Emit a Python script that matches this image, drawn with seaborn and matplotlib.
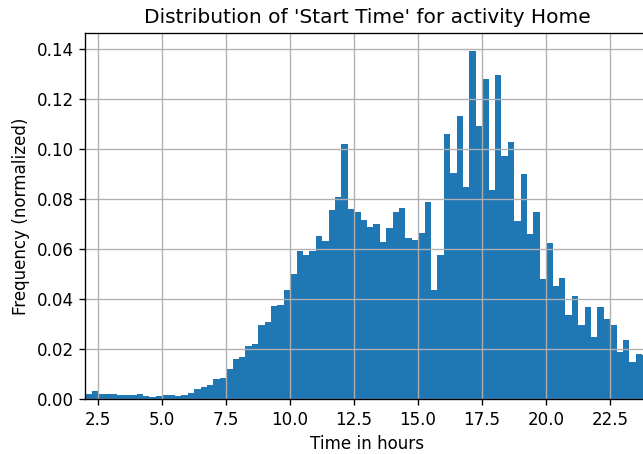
import numpy as np
import pandas as pd
import matplotlib
matplotlib.use("Agg")
import matplotlib.pyplot as plt
import seaborn as sns

# Histogram bins (hours) and normalized frequencies
bin_edges = list(np.linspace(2.0, 24.0, 89))
frequencies = [
    0.0019, 0.0032, 0.0020, 0.0021, 0.0020, 0.0017, 0.0015, 0.0016, 0.0020, 0.0010,
    0.0009, 0.0010, 0.0014, 0.0015, 0.0013, 0.0016, 0.0023, 0.0040, 0.0047, 0.0055,
    0.0078, 0.0082, 0.0120, 0.0160, 0.0169, 0.0213, 0.0220, 0.0297, 0.0309, 0.0372,
    0.0375, 0.0435, 0.0500, 0.0593, 0.0577, 0.0590, 0.0653, 0.0632, 0.0755, 0.0807,
    0.1020, 0.0759, 0.0749, 0.0715, 0.0687, 0.0699, 0.0629, 0.0683, 0.0749, 0.0763,
    0.0643, 0.0635, 0.0664, 0.0788, 0.0437, 0.0577, 0.1060, 0.0905, 0.1133, 0.0849,
    0.1392, 0.1091, 0.1280, 0.0835, 0.1295, 0.0973, 0.1028, 0.0712, 0.0899, 0.0661,
    0.0749, 0.0481, 0.0625, 0.0452, 0.0485, 0.0335, 0.0413, 0.0297, 0.0369, 0.0249,
    0.0369, 0.0319, 0.0296, 0.0189, 0.0236, 0.0147, 0.0179, 0.0175,
]
x_ticks = [2.5, 5.0, 7.5, 10.0, 12.5, 15.0, 17.5, 20.0, 22.5]
y_ticks = [0.00, 0.02, 0.04, 0.06, 0.08, 0.10, 0.12, 0.14]

title = "Distribution of 'Start Time' for activity Home"
x_label = "Time in hours"
y_label = "Frequency (normalized)"

edges = np.array(bin_edges)
centers = (edges[:-1] + edges[1:]) / 2
df = pd.DataFrame({"hour": centers, "freq": frequencies})

plt.rcParams["font.family"] = ["DejaVu Sans"]
plt.rcParams["axes.axisbelow"] = "line"

DPI = 121
fig = plt.figure(figsize=(643 / DPI, 454 / DPI), dpi=DPI)
ax = fig.add_axes([85.3 / 643, 1 - 399 / 454, (648.5 - 85.3) / 643, (399 - 33.3) / 454])

sns.histplot(data=df, x="hour", weights="freq", bins=bin_edges, stat="count",
             color="#1f77b4", alpha=1.0, linewidth=0, edgecolor="none", ax=ax)

ax.set_xlim(2.0, 24.0)
ax.set_xticks(x_ticks)
ax.set_xticklabels([f"{t:.1f}" for t in x_ticks])
ax.set_yticks(y_ticks)
ax.set_yticklabels([f"{t:.2f}" for t in y_ticks])
ax.tick_params(labelsize=10, length=3.5, width=0.8)
ax.grid(True, color="#b0b0b0", linewidth=0.8)
ax.set_title(title, fontsize=12)
ax.set_xlabel(x_label, fontsize=10)
ax.set_ylabel(y_label, fontsize=10)
for s in ax.spines.values():
    s.set_linewidth(0.8)

fig.savefig("out.png", dpi=DPI)
